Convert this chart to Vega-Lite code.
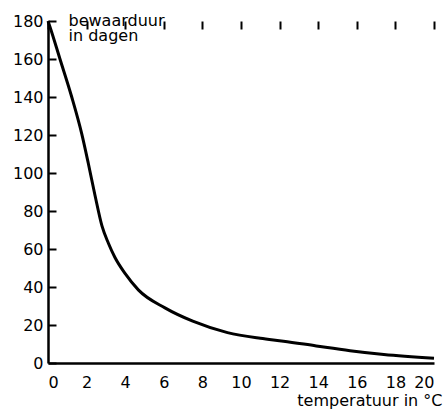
{
  "$schema": "https://vega.github.io/schema/vega-lite/v6.json",
  "autosize": "none",
  "width": 386,
  "height": 342,
  "padding": {"left": 48, "top": 21, "right": 12, "bottom": 47},
  "background": "white",
  "config": {
    "view": {"stroke": null},
    "font": "DejaVu Sans",
    "axis": {
      "domainColor": "black",
      "domainWidth": 2.5,
      "ticks": false,
      "grid": true,
      "gridColor": "black",
      "gridOpacity": 1,
      "gridWidth": 2,
      "gridDash": [8, 2000],
      "labelOverlap": false,
      "labelColor": "black",
      "labelFontSize": 16,
      "labelFont": "DejaVu Sans",
      "titleFont": "DejaVu Sans",
      "titleFontSize": 16,
      "titleFontWeight": "normal",
      "titleColor": "black"
    }
  },
  "data": {
    "values": [
      {"t": 0, "d": 180},
      {"t": 0.1, "d": 177},
      {"t": 0.62, "d": 160},
      {"t": 1.23, "d": 140},
      {"t": 1.74, "d": 121},
      {"t": 2.09, "d": 105},
      {"t": 2.44, "d": 88},
      {"t": 2.8, "d": 72},
      {"t": 3.13, "d": 63},
      {"t": 3.47, "d": 55.5},
      {"t": 4.0, "d": 47},
      {"t": 4.68, "d": 38.5},
      {"t": 6.06, "d": 29},
      {"t": 7.5, "d": 22},
      {"t": 9.3, "d": 16},
      {"t": 11, "d": 13},
      {"t": 12.2, "d": 11.5},
      {"t": 13.9, "d": 9},
      {"t": 15.65, "d": 6.5},
      {"t": 17.4, "d": 4.5},
      {"t": 20, "d": 2.5}
    ]
  },
  "mark": {"type": "line", "color": "black", "strokeWidth": 3, "interpolate": "monotone"},
  "encoding": {
    "x": {
      "field": "t",
      "type": "quantitative",
      "scale": {"domain": [0, 20], "nice": false},
      "axis": {
        "orient": "bottom",
        "values": [0, 2, 4, 6, 8, 10, 12, 14, 16, 18, 20],
        "labelPadding": 11,
        "title": "temperatuur in °C",
        "titleAlign": "right",
        "titleX": 394,
        "titleY": 42,
        "titleBaseline": "alphabetic"
      }
    },
    "y": {
      "field": "d",
      "type": "quantitative",
      "scale": {"domain": [0, 180], "nice": false},
      "axis": {
        "orient": "left",
        "values": [0, 20, 40, 60, 80, 100, 120, 140, 160, 180],
        "labelPadding": 5,
        "title": ["bewaarduur", "in dagen"],
        "titleAngle": 0,
        "titleAlign": "left",
        "titleX": 20,
        "titleY": 4,
        "titleBaseline": "alphabetic",
        "titleLineHeight": 15
      }
    }
  }
}
